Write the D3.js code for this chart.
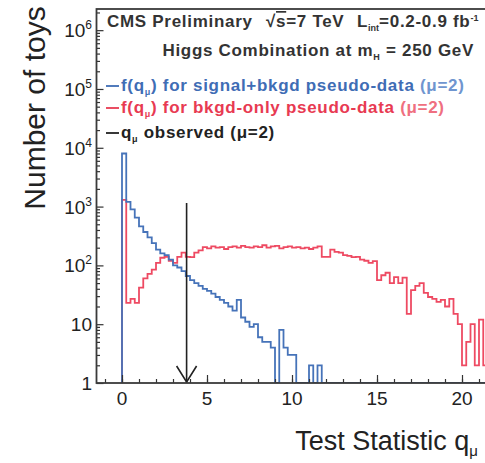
<!DOCTYPE html>
<html lang="en">
<head>
<meta charset="UTF-8">
<title>Test statistic toys</title>
<script src="https://d3js.org/d3.v7.min.js"></script>
<style>
    body { margin: 0; background: #ffffff; }
    svg { display: block; font-family: "Liberation Sans", Arial, Helvetica, sans-serif; }
    .tick line { stroke: #333333; stroke-width: 1.2; }
    .ticklab { font-size: 19px; fill: #222222; }
    .axtitle { font-size: 27px; fill: #222222; }
    .legend { font-size: 17px; font-weight: bold; letter-spacing: 0.7px; }
</style>
</head>
<body>
<svg width="485" height="463"></svg>
<script>
// histogram binning (q_mu), bin width 0.25 starting at 0
var binStart = 0;
var binWidth = 0.25;

// f(q_mu) for signal+bkgd pseudo-data (blue)
var sigBkgCounts = [8000, 1200, 900, 650, 460, 370, 300, 240, 185, 160,
    150, 125, 100, 92, 80, 66, 56, 50, 45, 40,
    37, 33, 29, 26, 23, 20, 17, 26, 13, 11,
    9, 10, 6, 5, 5, 4, 0, 8, 4, 3,
    3, 0, 0, 0, 2, 0, 2, 0, 0, 0,
    0, 0, 0, 0, 0, 0, 0, 0, 0, 0,
    0, 0, 0, 0, 0, 0, 0, 0, 0, 0,
    0, 0, 0, 0, 0, 0, 0, 0, 0, 0,
    0, 0, 0, 0, 0, 0, 0];

// f(q_mu) for bkgd-only pseudo-data (red)
var bkgOnlyCounts = [1300, 23, 27, 23, 42, 60, 72, 85, 110, 135,
    140, 120, 110, 140, 165, 140, 138, 165, 180, 205,
    195, 210, 200, 205, 190, 205, 210, 200, 215, 205,
    200, 210, 205, 220, 200, 210, 215, 195, 205, 210,
    200, 205, 195, 200, 190, 200, 210, 140, 140, 185,
    170, 165, 150, 145, 138, 140, 125, 120, 110, 118,
    56, 68, 75, 50, 63, 50, 62, 15, 38, 45,
    50, 34, 29, 27, 24, 26, 20, 27, 15, 10,
    2, 5, 10, 2, 12, 2, 13];

var qObserved = 3.8;
var arrowTopCount = 1150;

var xTickValues = [0, 5, 10, 15, 20];
var yTickPowers = [0, 1, 2, 3, 4, 5, 6];

var svg = d3.select("svg");

var xScale = d3.scaleLinear().domain([-1.5, 21.5]).range([96.5, 487.5]);
var yScale = d3.scaleLog().domain([1, Math.pow(10, 6.36)]).range([383, 9]).clamp(true);

// clip for the plot area
svg.append("clipPath").attr("id", "plotclip")
    .append("rect")
    .attr("x", xScale(-1.5)).attr("y", yScale.range()[1])
    .attr("width", xScale(21.5) - xScale(-1.5))
    .attr("height", yScale.range()[0] - yScale.range()[1]);

// histogram outline: bin edges -> step points
function stepPoints(counts) {
    var pts = [{ q: binStart, n: 1 }];
    counts.forEach(function (c, i) {
        var lo = binStart + i * binWidth;
        pts.push({ q: lo, n: c < 1 ? 1 : c });
        pts.push({ q: lo + binWidth, n: c < 1 ? 1 : c });
    });
    pts.push({ q: binStart + counts.length * binWidth, n: 1 });
    return pts;
}

var histLine = d3.line()
    .x(function (d) { return xScale(d.q) })
    .y(function (d) { return yScale(d.n) });

var plot = svg.append("g").attr("clip-path", "url(#plotclip)");

plot.append("path")
    .attr("d", histLine(stepPoints(bkgOnlyCounts)))
    .attr("fill", "none")
    .attr("stroke", "#ee4a62")
    .attr("stroke-width", 1.8);

plot.append("path")
    .attr("d", histLine(stepPoints(sigBkgCounts)))
    .attr("fill", "none")
    .attr("stroke", "#4673b9")
    .attr("stroke-width", 1.8);

// observed q arrow
plot.append("line")
    .attr("x1", xScale(qObserved)).attr("x2", xScale(qObserved))
    .attr("y1", yScale(arrowTopCount)).attr("y2", yScale(1))
    .attr("stroke", "#222222").attr("stroke-width", 1.6);

plot.append("path")
    .attr("d", "M" + (xScale(qObserved) - 10) + "," + (yScale(1) - 17) +
        "L" + xScale(qObserved) + "," + (yScale(1) - 1) +
        "L" + (xScale(qObserved) + 10) + "," + (yScale(1) - 17))
    .attr("fill", "none")
    .attr("stroke", "#222222").attr("stroke-width", 1.6);

// axes, ticks inside the frame
var majorY = yTickPowers.map(function (p) { return Math.pow(10, p) });
var minorY = [];
yTickPowers.forEach(function (p) {
    for (var k = 2; k <= 9; k++) minorY.push(k * Math.pow(10, p));
});

svg.append("g").attr("transform", "translate(" + xScale(-1.5) + ",0)")
    .call(d3.axisLeft(yScale).tickValues(minorY.filter(function (v) { return v < yScale.domain()[1] }))
        .tickSizeInner(-3.5).tickSizeOuter(0).tickFormat(""))
    .select(".domain").remove();

svg.append("g").attr("transform", "translate(" + xScale(-1.5) + ",0)")
    .call(d3.axisLeft(yScale).tickValues(majorY).tickSizeInner(-7).tickSizeOuter(0).tickFormat(""))
    .select(".domain").remove();

var minorX = d3.range(-1, 22, 1);
svg.append("g").attr("transform", "translate(0," + yScale(1) + ")")
    .call(d3.axisBottom(xScale).tickValues(minorX).tickSizeInner(-4).tickSizeOuter(0).tickFormat(""))
    .select(".domain").remove();

svg.append("g").attr("transform", "translate(0," + yScale(1) + ")")
    .call(d3.axisBottom(xScale).tickValues(xTickValues).tickSizeInner(-8).tickSizeOuter(0).tickFormat(""))
    .select(".domain").remove();

// frame
svg.append("rect")
    .attr("x", xScale(-1.5)).attr("y", yScale.range()[1])
    .attr("width", xScale(21.5) - xScale(-1.5))
    .attr("height", yScale.range()[0] - yScale.range()[1])
    .attr("fill", "none").attr("stroke", "#3a3a3a").attr("stroke-width", 1.8);

// x tick labels
svg.selectAll("text.xlab")
    .data(xTickValues)
    .enter()
    .append("text")
    .attr("class", "ticklab xlab")
    .attr("x", function (d) { return xScale(d) })
    .attr("y", 405)
    .attr("text-anchor", "middle")
    .text(function (d) { return d });

// y tick labels, 10^n
var ylab = svg.selectAll("text.ylab")
    .data(yTickPowers)
    .enter()
    .append("text")
    .attr("class", "ticklab ylab")
    .attr("x", 92)
    .attr("y", function (d) { return yScale(Math.pow(10, d)) + 7 })
    .attr("text-anchor", "end");

ylab.each(function (p) {
    var t = d3.select(this);
    if (p === 0) { t.text("1"); return; }
    if (p === 1) { t.text("10"); return; }
    t.append("tspan").text("10");
    t.append("tspan").attr("dy", -8).style("font-size", "12px").text(p);
});

// axis titles
svg.append("text")
    .attr("class", "axtitle")
    .attr("x", 478).attr("y", 450)
    .attr("text-anchor", "end")
    .call(function (t) {
        t.append("tspan").text("Test Statistic q");
        t.append("tspan").attr("dy", 6).style("font-size", "15px").text("\u03bc");
    });

svg.append("text")
    .attr("class", "axtitle")
    .style("font-size", "30px")
    .attr("transform", "translate(45,108) rotate(-90)")
    .attr("text-anchor", "middle")
    .text("Number of toys");

// header and legend
var head = svg.append("text").attr("class", "legend").attr("fill", "#333333")
    .attr("x", 107).attr("y", 27);
head.append("tspan").text("CMS Preliminary");
head.append("tspan").attr("x", 266).text("\u221a");
head.append("tspan").attr("text-decoration", "overline").text("s");
head.append("tspan").text("=7 TeV");
head.append("tspan").attr("x", 357).text("L");
head.append("tspan").attr("dy", 4).style("font-size", "9px").style("letter-spacing", "0px").text("int");
head.append("tspan").attr("dy", -4).text("=0.2-0.9 fb");
head.append("tspan").attr("dy", -6).style("font-size", "9px").style("letter-spacing", "0px").text("-1");

var higgs = svg.append("text").attr("class", "legend").attr("fill", "#333333")
    .attr("x", 474).attr("y", 56).attr("text-anchor", "end");
higgs.append("tspan").text("Higgs Combination at m");
higgs.append("tspan").attr("dy", 4).style("font-size", "9px").text("H");
higgs.append("tspan").attr("dy", -4).text(" = 250 GeV");

var legendItems = [
    { sym: "f(q", sub: "\u03bc", rest: ") for signal+bkgd pseudo-data ", tail: "(\u03bc=2)", color: "#3f6db5", light: "#6f95cf" },
    { sym: "f(q", sub: "\u03bc", rest: ") for bkgd-only pseudo-data ", tail: "(\u03bc=2)", color: "#e83a52", light: "#ef6f80" },
    { sym: "q", sub: "\u03bc", rest: " observed ", tail: "(\u03bc=2)", color: "#222222", light: "#222222" }
];
var legendY = [91, 113, 138];

legendItems.forEach(function (d, i) {
    svg.append("line")
        .attr("x1", 106).attr("x2", 119)
        .attr("y1", legendY[i] - 5).attr("y2", legendY[i] - 5)
        .attr("stroke", d.color).attr("stroke-width", 1.8);
    var t = svg.append("text").attr("class", "legend").attr("fill", d.color)
        .attr("x", 121).attr("y", legendY[i]);
    t.append("tspan").text(d.sym);
    t.append("tspan").attr("dy", 4).style("font-size", "9px").text(d.sub);
    t.append("tspan").attr("dy", -4).text(d.rest);
    t.append("tspan").attr("fill", d.light).text(d.tail);
});
</script>
</body>
</html>
